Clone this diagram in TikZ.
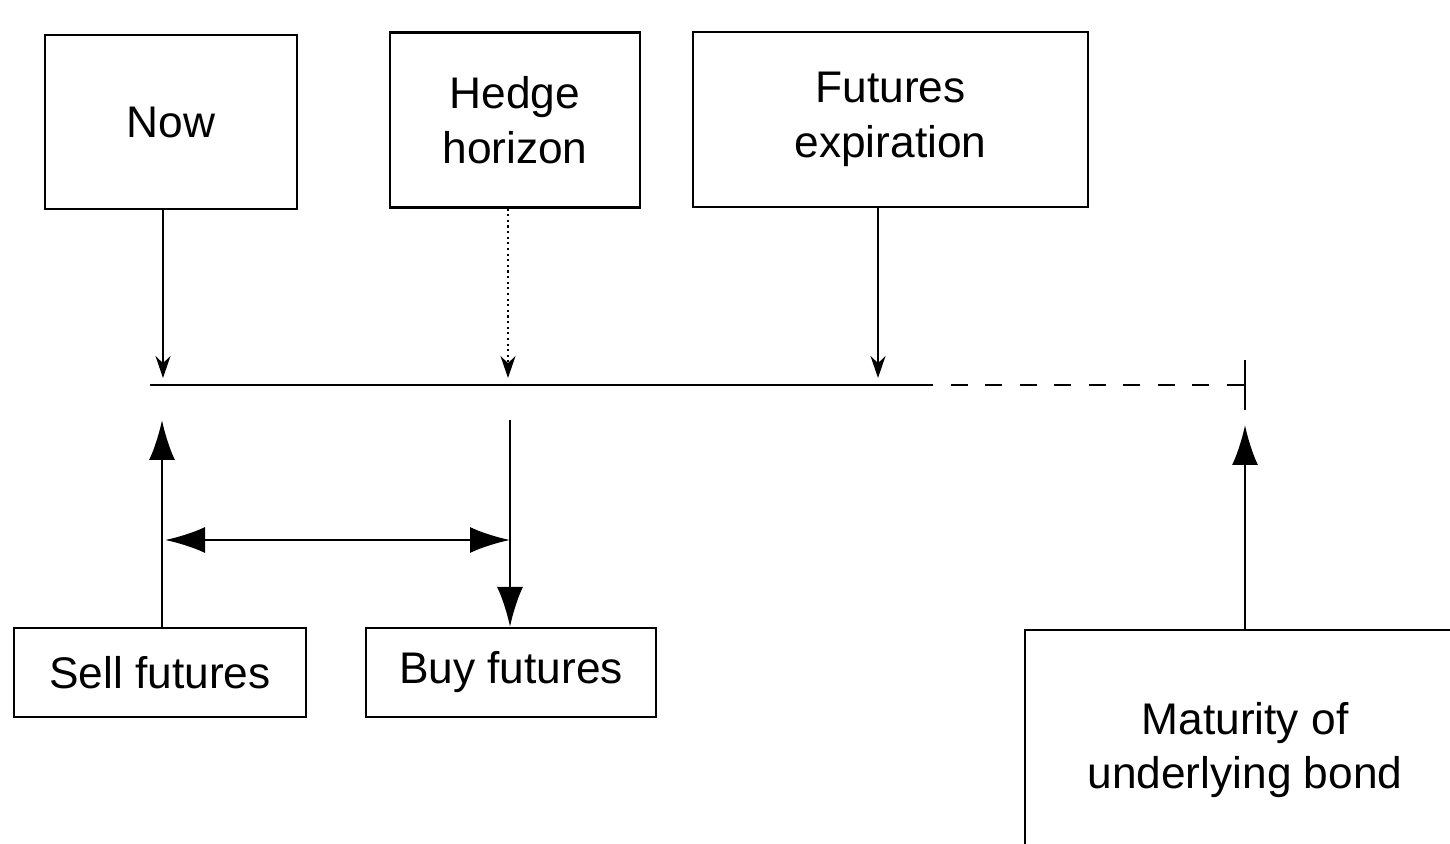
\documentclass[tikz,border=0pt]{standalone}
\usepackage{fontspec}
\setmainfont{Liberation Sans}
\usepackage{tikz}
\usetikzlibrary{arrows.meta}

\begin{document}
\begin{tikzpicture}[box/.style = {draw, semithick, align=center, font=\fontsize{12.6}{15.5}\selectfont},
	small/.style = {-{Stealth[length=2.2mm,width=1.5mm]}, semithick},
	big/.style = {-{Latex[length=4mm,width=2.6mm]}, thick}]
	\useasboundingbox (0,0) rectangle (14.5,8.43);
	\clip (0,0) rectangle (14.5,8.43);
	% boxes on top
	\node [box, minimum width=2.52cm, minimum height=1.74cm] (now) at (1.71,7.21) {Now};
	\node [box, minimum width=2.50cm, minimum height=1.75cm] (hedge) at (5.15,7.23) {Hedge\\horizon};
	\node [box, minimum width=3.95cm, minimum height=1.75cm] (expiry) at (8.905,7.235) {Futures\\expiration};
	% boxes below
	\node [box, minimum width=2.92cm, minimum height=0.89cm] (sell) at (1.60,1.705) {Sell futures};
	\node [box, minimum width=2.90cm, minimum height=0.89cm] (buy) at (5.11,1.705) {Buy futures};
	\node [box, minimum width=4.4cm, minimum height=2.4cm] (maturity) at (12.45,0.93) {Maturity of\\underlying bond};
	% time line
	\coordinate (start) at (1.50,4.58);
	\coordinate (solidend) at (9.33,4.58);
	\coordinate (lineend) at (12.45,4.58);
	\draw [thick] (start) -- (solidend);
	\draw [thick, dash pattern=on 1.7mm off 1.75mm, dash phase=1.7mm] (solidend) -- (lineend);
	\draw [thick] ([yshift=2.5mm]lineend) -- ([yshift=-2.5mm]lineend);
	% arrows from top
	\coordinate (t1) at (1.63,4.65);
	\coordinate (t2) at (5.08,4.65);
	\coordinate (t3) at (8.78,4.65);
	\draw [small] (now.south -| t1) -- (t1);
	\draw [small, densely dotted, thick] (hedge.south -| t2) -- (t2);
	\draw [small] (expiry.south -| t3) -- (t3);
	% arrows from below
	\coordinate (b1) at (1.62,4.23);
	\coordinate (b2) at (5.10,4.23);
	\coordinate (b3) at (12.45,4.18);
	\draw [big] (sell.north -| b1) -- (b1);
	\draw [big] (b2) -- (buy.north -| b2);
	\draw [big] (maturity.north -| b3) -- (b3);
	\coordinate (l) at (1.65,3.03);
	\coordinate (r) at (5.10,3.03);
	\draw [big, {Latex[length=4mm,width=2.6mm]}-{Latex[length=4mm,width=2.6mm]}] (l) -- (r);
\end{tikzpicture}
\end{document}
